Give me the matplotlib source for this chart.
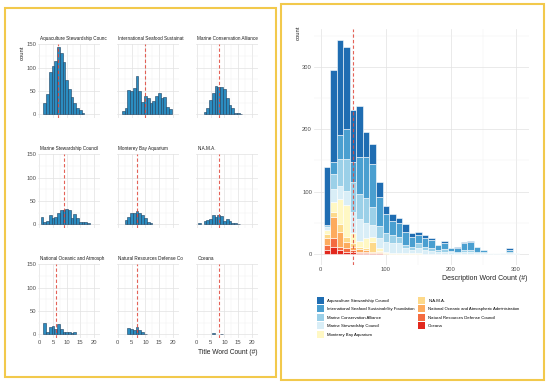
import matplotlib.pyplot as plt
import numpy as np
from matplotlib.patches import Patch, Rectangle

W, H = 550, 386

plt.rcParams['font.family'] = ['Liberation Sans Narrow', 'Liberation Sans', 'DejaVu Sans']

orgs = ['Aquaculture Stewardship Council',
        'International Seafood Sustainability Foundation',
        'Marine Conservation Alliance',
        'Marine Stewardship Council',
        'Monterey Bay Aquarium',
        'N.A.M.A.',
        'National Oceanic and Atmospheric Administration',
        'Natural Resources Defense Council',
        'Oceana']
org_colors = ['#1f6db2', '#4a9fd0', '#9bd0e8', '#d9eef7', '#fff8c4',
              '#fdd98a', '#fdab5e', '#f46b40', '#e2281d']

facet_titles = ['Aquaculture Stewardship Counc', 'International Seafood Sustainat',
                'Marine Conservation Alliance', 'Marine Stewardship Council',
                'Monterey Bay Aquarium', 'N.A.M.A.',
                'National Oceanic and Atmosph', 'Natural Resources Defense Co',
                'Oceana']

# title word counts, list index = number of words in title
title_asc = [0, 0, 25, 43, 91, 104, 114, 144, 132, 111, 74, 54, 38, 24, 13, 9, 3]
title_issf = [0, 0, 7, 14, 52, 50, 56, 81, 49, 26, 39, 36, 24, 29, 39, 45, 34, 38, 15, 11]
title_mca = [0, 0, 0, 4, 14, 31, 45, 61, 59, 58, 54, 34, 21, 13, 2, 2, 1]
title_msc = [0, 15, 4, 7, 21, 14, 15, 24, 31, 31, 32, 31, 14, 22, 14, 6, 4, 4, 3]
title_mba = [0, 0, 0, 9, 15, 25, 24, 29, 24, 20, 13, 4, 2]
title_nama = [0, 2, 0, 7, 9, 12, 21, 15, 21, 18, 7, 11, 7, 2, 2, 1]
title_noaa = [0, 0, 24, 6, 15, 18, 11, 22, 11, 5, 4, 4, 2, 4]
title_nrdc = [0, 0, 0, 0, 13, 11, 9, 16, 9, 4, 1]
title_oceana = [0, 0, 0, 0, 0, 0, 2, 0, 0, 1]
title_medians = [7, 10, 8, 9, 7, 8, 6, 7, 8]

# description word counts, bins of 10 words
desc_bins = [10, 20, 30, 40, 50, 60, 70, 80, 90, 100, 110, 120, 130, 140, 150,
             160, 170, 180, 190, 200, 210, 220, 230, 240, 250, 260, 270, 280, 290, 300]
desc_asc = [93, 147, 152, 132, 84, 82, 40, 33, 23, 12, 11, 8, 13, 5, 5,
            5, 3, 0, 3, 0, 3, 2, 2, 0, 0, 0, 0, 0, 2, 0]
desc_issf = [0, 19, 39, 48, 32, 60, 65, 68, 47, 32, 23, 22, 20, 16, 13,
             14, 14, 8, 10, 5, 5, 10, 12, 7, 3, 1, 1, 0, 4, 0]
desc_mca = [4, 24, 43, 51, 47, 40, 40, 30, 19, 13, 13, 11, 5, 5, 8,
            5, 4, 3, 4, 2, 2, 3, 4, 2, 1, 0, 0, 0, 1, 0]
desc_msc = [5, 21, 21, 22, 35, 35, 25, 18, 16, 16, 16, 16, 9, 6, 9,
            6, 5, 3, 4, 3, 2, 4, 3, 2, 2, 1, 1, 1, 2, 1]
desc_mba = [6, 16, 40, 51, 16, 10, 15, 8, 5, 3, 1, 1, 1, 1, 1,
            0, 0, 0, 0, 0, 0, 0, 0, 0, 0, 0, 0, 0, 0, 0]
desc_nama = [6, 8, 13, 8, 5, 3, 4, 16, 2, 1, 0, 0, 0, 0, 0,
             0, 0, 0, 0, 0, 0, 0, 0, 0, 0, 0, 0, 0, 0, 0]
desc_noaa = [12, 35, 24, 11, 5, 4, 3, 2, 1, 0, 0, 0, 0, 0, 0,
             0, 0, 0, 0, 0, 0, 0, 0, 0, 0, 0, 0, 0, 0, 0]
desc_nrdc = [8, 13, 5, 5, 3, 3, 2, 1, 1, 0, 0, 0, 0, 0, 0,
             0, 0, 0, 0, 0, 0, 0, 0, 0, 0, 0, 0, 0, 0, 0]
desc_oceana = [6, 12, 6, 4, 4, 1, 1, 1, 1, 0, 0, 0, 0, 0, 0,
               0, 0, 0, 0, 0, 0, 0, 0, 0, 0, 0, 0, 0, 0, 0]
desc_median = 50

tick_col = '#4d4d4d'
red = '#e0473b'

fig = plt.figure(figsize=(W / 100, H / 100), dpi=100)


def px_axes(x0, y0, x1, y1):
    return fig.add_axes([x0 / W, 1 - y1 / H, (x1 - x0) / W, (y1 - y0) / H])


def minimal(ax):
    for s in ax.spines.values():
        s.set_visible(False)
    ax.tick_params(which='both', length=0, labelsize=4.2, labelcolor=tick_col, pad=1.5)
    ax.grid(which='major', color='#e2e2e2', lw=0.5)
    ax.grid(which='minor', color='#efefef', lw=0.35)
    ax.set_axisbelow(True)


# panel borders
for (x0, y0, x1, y1) in [(5, 8, 276, 377), (281, 4, 544, 380)]:
    fig.patches.append(Rectangle((x0 / W, 1 - y1 / H), (x1 - x0) / W, (y1 - y0) / H,
                                 transform=fig.transFigure, fill=False,
                                 edgecolor='#f2c94c', lw=1.5))

# left: small multiples of title word count
title_counts = [title_asc, title_issf, title_mca, title_msc, title_mba,
                title_nama, title_noaa, title_nrdc, title_oceana]
col_px = [(38, 100), (116.5, 179), (195.5, 258)]
row_px = [(43.7, 117.7), (153.7, 227.7), (263.7, 337.7)]

for i, counts in enumerate(title_counts):
    r, c = divmod(i, 3)
    ax = px_axes(col_px[c][0], row_px[r][0], col_px[c][1], row_px[r][1])
    x = np.arange(len(counts))
    h = np.array(counts)
    keep = h > 0
    ax.bar(x[keep], h[keep], width=1, color='#2b8cc0', edgecolor='#1d3f5e', lw=0.4, zorder=2)
    ax.axvline(title_medians[i], color=red, ls=(0, (3, 2)), lw=0.8, alpha=0.85, zorder=3)
    ax.set_xlim(-0.48, 22.2)
    ax.set_ylim(-7.2, 151.2)
    ax.set_xticks([0, 5, 10, 15, 20])
    ax.set_xticks([2.5, 7.5, 12.5, 17.5], minor=True)
    ax.set_yticks([0, 50, 100, 150])
    ax.set_yticks([25, 75, 125], minor=True)
    minimal(ax)
    if c != 0:
        ax.set_yticklabels([])
    if r != 2:
        ax.set_xticklabels([])
    ax.set_title(facet_titles[i], loc='left', fontsize=3.3, pad=3, color='#1a1a1a',
                 x=0.03)

fig.text(22 / W, 1 - 53 / H, 'count', rotation=90, fontsize=4.2,
         ha='center', va='center', color='#222222')
fig.text(258 / W, 1 - 352 / H, 'Title Word Count (#)', fontsize=4.8,
         ha='right', va='center', color='#222222')

# right: stacked histogram of description word count
desc_counts = [desc_asc, desc_issf, desc_mca, desc_msc, desc_mba,
               desc_nama, desc_noaa, desc_nrdc, desc_oceana]
ax = px_axes(314, 29.4, 528.7, 264.7)
bottom = np.zeros(len(desc_bins))
for counts, col in zip(desc_counts[::-1], org_colors[::-1]):
    h = np.array(counts, dtype=float)
    keep = h > 0
    ax.bar(np.array(desc_bins)[keep], h[keep], width=10, bottom=bottom[keep],
           color=col, edgecolor='white', lw=0.4, zorder=2)
    bottom += h
ax.axvline(desc_median, color=red, ls=(0, (3, 2)), lw=0.8, alpha=0.85, zorder=3)
ax.set_xlim(-10.3, 319.7)
ax.set_ylim(-17, 360)
ax.set_xticks([0, 100, 200, 300])
ax.set_xticks([50, 150, 250], minor=True)
ax.set_yticks([0, 100, 200, 300])
ax.set_yticks([50, 150, 250, 350], minor=True)
minimal(ax)

fig.text(298 / W, 1 - 33 / H, 'count', rotation=90, fontsize=4.2,
         ha='center', va='center', color='#222222')
fig.text(527 / W, 1 - 278 / H, 'Description Word Count (#)', fontsize=5,
         ha='right', va='center', color='#222222')

handles = [Patch(facecolor=c, edgecolor='none') for c in org_colors]
fig.legend(handles, orgs, loc='upper left', bbox_to_anchor=(317 / W, 1 - 297 / H),
           ncol=2, frameon=False, fontsize=3.1, handlelength=1.6, handleheight=2.1,
           labelspacing=0.35, columnspacing=0.9, handletextpad=0.7, borderpad=0,
           borderaxespad=0)

fig.savefig('out.png', dpi=100, facecolor='white')
